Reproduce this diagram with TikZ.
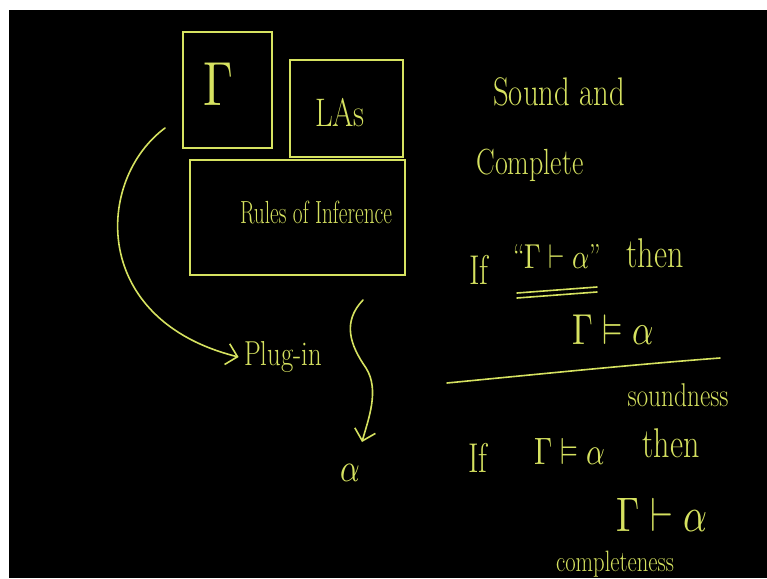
\documentclass[tikz,border=0pt]{standalone}
\usepackage{unicode-math}
\setmathfont{Latin Modern Math}
\usetikzlibrary{arrows.meta}
\definecolor{chalk}{RGB}{214,226,96}
\newcommand\handtall[1]{\scalebox{1}[1.3]{#1}}
\newcommand\fs[1]{\fontsize{#1}{#1}\selectfont}
\begin{document}
\begin{tikzpicture}[x=0.75pt,y=-0.75pt,
  box/.style={draw=chalk,line width=1.3pt,inner sep=0pt},
  hand/.style={text=chalk,inner sep=0pt},
  chalkline/.style={draw=chalk,line width=1.2pt,line cap=round},
  arr/.style={chalkline,-{Straight Barb[length=8pt,width=16pt,line width=1.2pt]}}]
\useasboundingbox (0,0) rectangle (767,578);
\fill[white] (0,0) rectangle (767,578);
\fill[black] (9,10) rectangle (767,578);

% boxes
\node[box,minimum width=66.75pt,minimum height=87pt] (gbox) at (227.5,90) {};
\node[box,minimum width=84.75pt,minimum height=72.75pt] (lbox) at (346.5,108.5) {};
\node[box,minimum width=161.25pt,minimum height=86.25pt] (rbox) at (297.5,217.5) {};
\node[hand,font=\fs{36}] (gam) at (218,84) {\handtall{$\Gamma$}};
\node[hand,font=\fs{23}] (las) at (340,113) {\handtall{LAs}};
\node[hand,font=\fs{16}] (roi) at (316,213) {\scalebox{1}[1.5]{Rules of Inference}};

% left flow
\node[hand,font=\fs{20}] (plug) at (283,357) {\handtall{Plug-in}};
\node[hand,font=\fs{23}] (alpha) at (350,473) {\handtall{$\alpha$}};
\coordinate (a0) at (165,128);
\draw[arr] (a0) .. controls (95,180) and (90,320) .. ([xshift=-4pt]plug.west);
\coordinate (b0) at (363,300);
\coordinate (b1) at (362,442);
\draw[arr] (b0) .. controls (342,322) and (350,345) .. (366,368) .. controls (380,390) and (368,420) .. (b1);

% right side
\node[hand,font=\fs{23}] (sound) at (559,92) {\handtall{Sound and}};
\node[hand,font=\fs{21}] (compl) at (530,165) {\handtall{Complete}};
\node[hand,font=\fs{24}] (if1) at (479,270) {\handtall{If}};
\node[hand,font=\fs{20}] (f1) at (557,257) {\handtall{``$\Gamma\vdash\alpha$''}};
\node[hand,font=\fs{24}] (then1) at (655,253) {\handtall{then}};
\coordinate (u1a) at (517,293); \coordinate (u1b) at (597,287);
\coordinate (u2a) at (517,298); \coordinate (u2b) at (597,292);
\draw[chalkline] (u1a) -- (u1b);
\draw[chalkline] (u2a) -- (u2b);
\node[hand,font=\fs{25}] (f2) at (613,330) {\handtall{$\Gamma\vDash\alpha$}};
\coordinate (s0) at (447,383); \coordinate (s1) at (720,358);
\draw[chalkline] (s0) .. controls (540,374) and (640,364) .. (s1);
\node[hand,font=\fs{19}] (snd) at (678,395) {\handtall{soundness}};
\node[hand,font=\fs{24}] (if2) at (478,458) {\handtall{If}};
\node[hand,font=\fs{22}] (f3) at (570,452) {\handtall{$\Gamma\vDash\alpha$}};
\node[hand,font=\fs{24}] (then2) at (671,443) {\handtall{then}};
\node[hand,font=\fs{28}] (f4) at (662,515) {\handtall{$\Gamma\vdash\alpha$}};
\node[hand,font=\fs{17}] (cmp) at (615,564) {\handtall{completeness}};
\end{tikzpicture}
\end{document}
